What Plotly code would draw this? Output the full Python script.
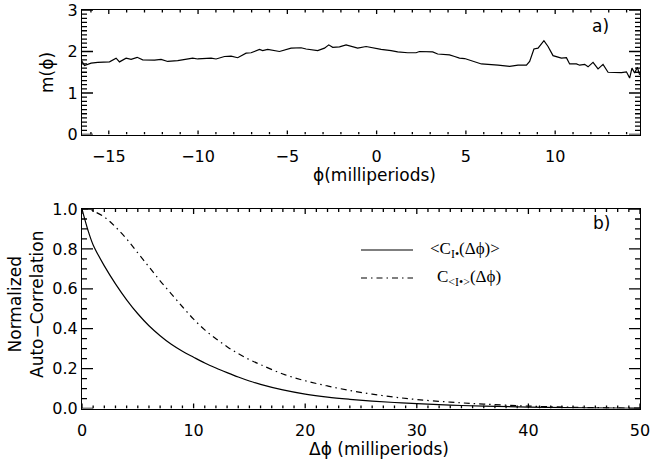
import plotly.graph_objects as go

# ---- Panel a) data: m(phi) vs phi (milliperiods)
phi = [-16.55, -16.36, -15.99, -15.62, -14.96, -14.59, -14.40, -14.03, -13.75, -13.41,
       -13.10, -12.44, -12.07, -11.70, -11.14, -10.58, -10.30, -10.02, -9.27, -8.99,
       -8.52, -8.15, -7.78, -7.31, -7.03, -6.56, -6.38, -6.10, -5.44, -4.79,
       -4.23, -3.95, -3.30, -2.92, -2.68, -2.46, -2.08, -1.71, -1.06, -0.59,
       -0.12, 0.25, 0.81, 1.18, 1.74, 2.21, 2.40, 3.14, 3.42, 4.08,
       4.37, 4.64, 4.93, 5.40, 5.87, 6.80, 7.45, 7.92, 8.39, 8.57,
       8.81, 9.04, 9.37, 9.60, 9.88, 10.35, 10.63, 10.81, 11.19, 11.37,
       11.65, 11.84, 12.12, 12.40, 12.68, 12.96, 13.33, 13.71, 13.99, 14.17,
       14.30, 14.45, 14.60, 14.73]
m_phi = [1.80, 1.66, 1.72, 1.74, 1.75, 1.84, 1.75, 1.84, 1.81, 1.86,
         1.80, 1.79, 1.81, 1.76, 1.78, 1.81, 1.84, 1.82, 1.84, 1.82,
         1.88, 1.89, 1.85, 1.96, 1.97, 2.05, 2.02, 2.05, 2.00, 2.08,
         2.09, 2.06, 2.02, 2.08, 2.16, 2.10, 2.11, 2.16, 2.08, 2.12,
         2.08, 2.05, 2.02, 1.99, 1.97, 1.97, 2.00, 1.99, 1.94, 1.92,
         1.88, 1.84, 1.83, 1.77, 1.70, 1.67, 1.64, 1.67, 1.67, 1.76,
         2.06, 2.08, 2.26, 2.12, 1.90, 1.84, 1.85, 1.70, 1.70, 1.67,
         1.69, 1.63, 1.74, 1.58, 1.69, 1.50, 1.50, 1.49, 1.51, 1.36,
         1.60, 1.48, 1.62, 1.44]

# ---- Panel b) data: normalized auto-correlations vs delta phi
dphi = [0, 0.5, 1, 2, 3, 4, 5, 6, 7, 8, 9, 10, 11, 12, 13, 14, 15, 16, 18, 20,
        22, 24, 26, 28, 30, 33, 36, 40, 45, 50]
c_mean = [1.0, 0.90, 0.82, 0.715, 0.625, 0.545, 0.475, 0.415, 0.365, 0.322, 0.287, 0.257,
          0.228, 0.203, 0.18, 0.158, 0.138, 0.121, 0.093, 0.072,
          0.057, 0.046, 0.037, 0.030, 0.024, 0.017, 0.012, 0.007, 0.003, 0.001]
c_of_mean = [1.0, 1.0, 0.99, 0.96, 0.91, 0.85, 0.78, 0.71, 0.64, 0.575, 0.51, 0.448,
             0.394, 0.35, 0.31, 0.275, 0.245, 0.22, 0.173, 0.139,
             0.113, 0.09, 0.072, 0.057, 0.045, 0.032, 0.022, 0.012, 0.005, 0.002]

legend_labels = ["&lt;C<sub>I•</sub>(Δϕ)&gt;", "C<sub>&lt;I•&gt;</sub>(Δϕ)"]

FONT = "DejaVu Sans"
W, H = 651, 461
DASHDOT = "6px,4px,1.5px,4px"

xdom = [82 / W, 640 / W]
top_dom = [1 - 134.5 / H, 1 - 10 / H]
bot_dom = [1 - 408.5 / H, 1 - 209 / H]
rng_a_x, rng_a_y = [-16.5, 14.75], [0, 3]
rng_b_x, rng_b_y = [0, 50], [0, 1]

fig = go.Figure()
fig.add_trace(go.Scatter(x=phi, y=m_phi, mode="lines", line=dict(color="black", width=1.2),
                         xaxis="x", yaxis="y", showlegend=False))
fig.add_trace(go.Scatter(x=dphi, y=c_mean, mode="lines", line=dict(color="black", width=1.2, shape="spline"),
                         xaxis="x2", yaxis="y2", showlegend=False))
fig.add_trace(go.Scatter(x=dphi, y=c_of_mean, mode="lines",
                         line=dict(color="black", width=1.2, shape="spline", dash=DASHDOT),
                         xaxis="x2", yaxis="y2", showlegend=False))

base = dict(showline=True, linecolor="black", linewidth=1, showgrid=False, zeroline=False,
            automargin=False, mirror=True, ticks="",
            tickfont=dict(family=FONT, size=16, color="black"))

fig.update_layout(
    template="none",
    width=W, height=H, margin=dict(l=0, r=0, t=0, b=0),
    paper_bgcolor="white", plot_bgcolor="white",
    xaxis=dict(base, range=rng_a_x, dtick=5, tick0=0, domain=xdom, anchor="y", ticklabelstandoff=7),
    yaxis=dict(base, range=rng_a_y, dtick=1, tick0=0, domain=top_dom, anchor="x"),
    xaxis2=dict(base, range=rng_b_x, dtick=10, tick0=0, domain=xdom, anchor="y2", ticklabelstandoff=7),
    yaxis2=dict(base, range=rng_b_y, dtick=0.2, tick0=0, tickformat=".1f", domain=bot_dom, anchor="x2"),
)

# IDL-style inward tick marks on all four sides, at the axis tick values (drawn as one line trace per panel)
plot_w = (xdom[1] - xdom[0]) * W

def tick_values(lo, hi, step):
    k = -(-lo // step) if lo % step else lo / step
    k = int(round(k))
    vals = []
    while k * step <= hi + 1e-9:
        vals.append(round(k * step, 6))
        k += 1
    return vals

def tick_trace(xa, ya, xr, yr, xmaj, xmin, ymaj, ymin, plot_h, xlen, ylen):
    ux = (xr[1] - xr[0]) / plot_w      # data units per pixel (x)
    uy = (yr[1] - yr[0]) / plot_h      # data units per pixel (y)
    xs, ys = [], []
    for v in tick_values(xr[0], xr[1], xmin):
        major = abs(v / xmaj - round(v / xmaj)) < 1e-6
        L = (xlen[0] if major else xlen[1]) * uy
        xs += [v, v, None, v, v, None]
        ys += [yr[0], yr[0] + L, None, yr[1] - L, yr[1], None]
    for v in tick_values(yr[0], yr[1], ymin):
        major = abs(v / ymaj - round(v / ymaj)) < 1e-6
        L = (ylen[0] if major else ylen[1]) * ux
        xs += [xr[0], xr[0] + L, None, xr[1] - L, xr[1], None]
        ys += [v, v, None, v, v, None]
    return go.Scatter(x=xs, y=ys, mode="lines", line=dict(color="black", width=1.3),
                      hoverinfo="skip", showlegend=False, xaxis=xa, yaxis=ya, cliponaxis=False)

fig.add_trace(tick_trace("x", "y", rng_a_x, rng_a_y, 5, 1, 1, 0.1, 124.5, (4, 2.5), (11, 5)))
fig.add_trace(tick_trace("x2", "y2", rng_b_x, rng_b_y, 10, 1, 0.2, 0.05, 199.5, (5, 3), (11, 5)))

# legend (drawn manually to match the original layout)
leg_y = [1 - 250 / H, 1 - 278 / H]
leg_dash = ["solid", DASHDOT]
for yy, dsh in zip(leg_y, leg_dash):
    fig.add_shape(type="line", xref="paper", yref="paper", x0=361 / W, x1=413 / W, y0=yy, y1=yy,
                  line=dict(color="black", width=1.2, dash=dsh))

tfont = dict(family=FONT, size=17, color="black")
ann = [
    dict(text="ϕ(milliperiods)", x=375 / W, y=1 - 175 / H),
    dict(text="Δϕ (milliperiods)", x=379 / W, y=1 - 449 / H),
    dict(text="m(ϕ)", x=47 / W, y=1 - 73 / H, textangle=-90),
    dict(text="Normalized<br>Auto−Correlation", x=26 / W, y=1 - 305 / H, textangle=-90),
    dict(text="a)", x=600 / W, y=1 - 26 / H),
    dict(text="b)", x=601 / W, y=1 - 223 / H),
]
for a in ann:
    fig.add_annotation(xref="paper", yref="paper", xanchor="center", yanchor="middle",
                       showarrow=False, font=tfont, **a)

lfont = dict(family="Liberation Serif", size=17, color="black")
leg_tx = [428 / W, 435 / W]
for yy, lbl, tx in zip(leg_y, legend_labels, leg_tx):
    fig.add_annotation(xref="paper", yref="paper", x=tx, y=yy, xanchor="left", yanchor="middle",
                       text=lbl, showarrow=False, font=lfont)

fig.write_html("out.html")
